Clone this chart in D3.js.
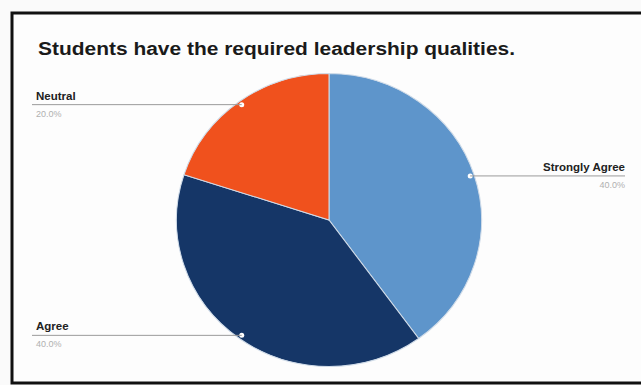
<!DOCTYPE html>
<html>
<head>
<meta charset="utf-8">
<script src="https://cdn.jsdelivr.net/npm/d3@7"></script>
<style>
  body { margin: 0; background: #fafafa; }
  svg { display: block; font-family: "Liberation Sans", Arial, sans-serif; }
</style>
</head>
<body>
<svg width="641" height="385"></svg>
<script>
// Chart data
const categories = ["Strongly Agree", "Agree", "Neutral"];
const values = [40, 40, 20];
const percentLabels = ["40.0%", "40.0%", "20.0%"];
const colors = ["#5e95cb", "#153667", "#f0511d"];

const svg = d3.select("svg");
const W = 641, H = 385;

// paper frame
svg.append("rect")
    .attr("x", 12).attr("y", 13)
    .attr("width", W + 10).attr("height", H - 15)
    .attr("fill", "#fdfdfd")
    .attr("stroke", "#111")
    .attr("stroke-width", 3);

// title
svg.append("text")
    .attr("x", 38).attr("y", 55)
    .attr("font-size", 18)
    .attr("font-weight", "bold")
    .attr("fill", "#1a1a1a")
    .attr("textLength", 477)
    .attr("lengthAdjust", "spacingAndGlyphs")
    .text("Students have the required leadership qualities.");

const cx = 329, cy = 220, r = 151;
const sy = 0.97; // slight vertical squash like the photographed page
const g = svg.append("g").attr("transform", `translate(${cx},${cy}) scale(1.01,${sy})`);

const pie = d3.pie().sort(null).value(d => d.value);
const arcs = pie(categories.map((c, i) => ({ name: c, value: values[i], pct: percentLabels[i], color: colors[i] })));
const arc = d3.arc().innerRadius(0).outerRadius(r);

g.selectAll("path.slice")
    .data(arcs)
    .enter().append("path")
    .attr("class", "slice")
    .attr("d", arc)
    .attr("fill", d => d.data.color)
    .attr("stroke", "#cfdbe8")
    .attr("stroke-width", 1);

// label dots on the rim
const rimPos = d => {
    const a = (d.startAngle + d.endAngle) / 2;
    return [Math.sin(a) * (r - 4) * 1.01, -Math.cos(a) * (r - 4) * sy];
};

svg.selectAll("circle.dot")
    .data(arcs)
    .enter().append("circle")
    .attr("cx", d => cx + rimPos(d)[0])
    .attr("cy", d => cy + rimPos(d)[1])
    .attr("r", 2.5)
    .attr("fill", "#fff");

// leader lines + labels
arcs.forEach(d => {
    const [px, py] = rimPos(d);
    const right = px > 0;
    const ax = cx + px, ay = cy + py;
    const endX = right ? 625 : 32;
    svg.append("line")
        .attr("x1", ax).attr("y1", ay)
        .attr("x2", endX).attr("y2", ay)
        .attr("stroke", "#9a9a9a")
        .attr("stroke-width", 1);
    svg.append("text")
        .attr("x", right ? 625 : 36)
        .attr("y", ay - 5)
        .attr("text-anchor", right ? "end" : "start")
        .attr("font-size", 11.5)
        .attr("font-weight", "bold")
        .attr("fill", "#222")
        .text(d.data.name);
    svg.append("text")
        .attr("x", right ? 625 : 36)
        .attr("y", ay + 12)
        .attr("text-anchor", right ? "end" : "start")
        .attr("font-size", 9)
        .attr("fill", "#b0b0b0")
        .text(d.data.pct);
});
</script>
</body>
</html>
